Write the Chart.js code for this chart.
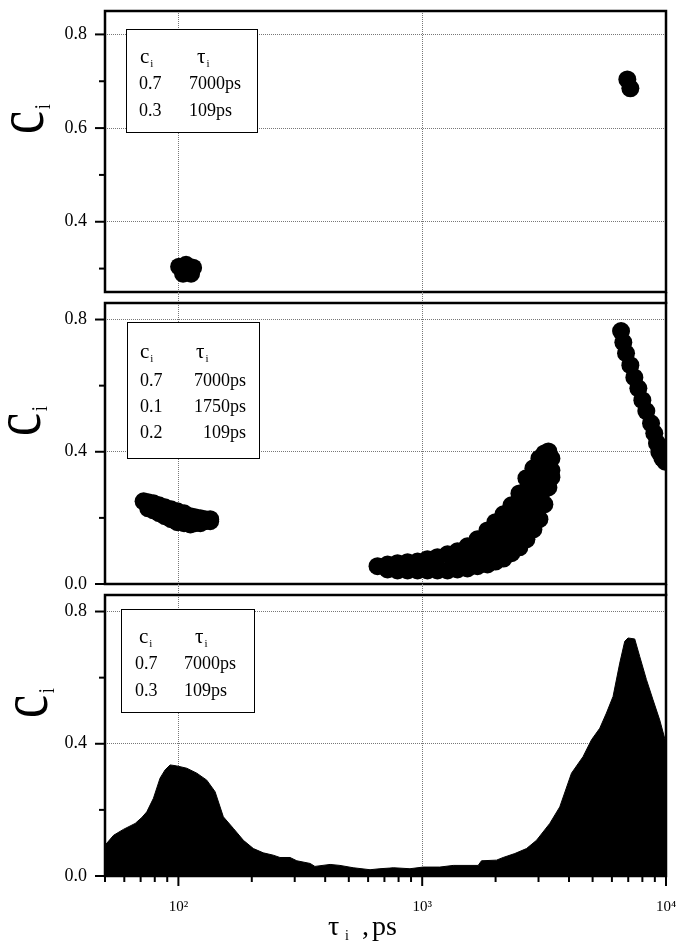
<!DOCTYPE html>
<html>
<head>
<meta charset="utf-8">
<script src="https://cdn.jsdelivr.net/npm/chart.js@4/dist/chart.umd.min.js"></script>
<style>
html,body{margin:0;padding:0;background:#fff;}
#wrap{position:relative;width:677px;height:950px;overflow:hidden;background:#fff;}
canvas{position:absolute;left:0;}
</style>
</head>
<body>
<div id="wrap">
  <canvas id="c1" width="677" height="320" style="top:0px"></canvas>
  <canvas id="c2" width="677" height="320" style="top:283px"></canvas>
  <canvas id="c3" width="677" height="375" style="top:575px"></canvas>
</div>
<script>
// ---------------- DATA ----------------
const X_MIN = 50, X_MAX = 10000;
const xMajorTicks = [100, 1000, 10000];
const xTickLabels = ['10\u00B2', '10\u00B3', '10\u2074'];
const xMinorTicks = [50, 60, 70, 80, 90, 200, 300, 400, 500, 600, 700, 800, 900,
                     2000, 3000, 4000, 5000, 6000, 7000, 8000, 9000];

// Panel 1: two-component fits (c_i vs tau_i)
const p1Tau = [100.7, 107.5, 114.9, 112.7, 104.5, 107.5, 6940, 7141];
const p1C   = [0.304, 0.308, 0.302, 0.289, 0.289, 0.297, 0.704, 0.685];
const p1YMajor = [0.4, 0.6, 0.8];
const p1YMinor = [0.3, 0.5, 0.7];
const p1LegendC   = ['0.7', '0.3'];
const p1LegendTau = ['7000ps', '109ps'];

// Panel 2: three-component fits
const p2ShortTau = [72, 75.2, 75.2, 79, 79, 83.3, 83.3, 88, 88, 93.3, 93.3, 99, 99, 105.5, 105.5,
                    112, 112, 117, 117, 123, 123, 128.6, 128.6, 135, 135];
const p2ShortC   = [0.25, 0.247, 0.229, 0.244, 0.223, 0.238, 0.214, 0.232, 0.205, 0.226, 0.196,
                    0.22, 0.187, 0.214, 0.184, 0.205, 0.18, 0.202, 0.184, 0.199, 0.184, 0.196, 0.19, 0.196, 0.19];
const p2MidTau = [656, 721, 792, 871, 957, 1051, 1155, 1270, 1395, 1533, 1685, 1852, 1997,
                  2154, 2323, 2505, 2676, 2858, 3025, 3171, 3293, 3388];
const p2MidC = [
  [0.054],
  [0.059, 0.044],
  [0.063, 0.041],
  [0.066, 0.041],
  [0.068, 0.041],
  [0.075, 0.041],
  [0.081, 0.041],
  [0.090, 0.041],
  [0.099, 0.072, 0.044],
  [0.114, 0.081, 0.047],
  [0.135, 0.096, 0.054],
  [0.162, 0.126, 0.093, 0.059],
  [0.187, 0.153, 0.117, 0.093, 0.068],
  [0.211, 0.174, 0.138, 0.102, 0.077],
  [0.238, 0.202, 0.165, 0.129, 0.093],
  [0.274, 0.238, 0.202, 0.165, 0.129, 0.111],
  [0.320, 0.283, 0.247, 0.211, 0.174, 0.135],
  [0.350, 0.314, 0.277, 0.241, 0.205, 0.165],
  [0.380, 0.344, 0.308, 0.271, 0.235, 0.196],
  [0.395, 0.359, 0.323, 0.286, 0.241],
  [0.401, 0.365, 0.329, 0.292],
  [0.380, 0.344, 0.323]
];
const p2LongTau = [6541, 6683, 6857, 7141, 7417, 7701, 7997, 8304, 8681, 8954, 9186, 9387, 9656, 9933];
const p2LongC   = [0.765, 0.731, 0.698, 0.662, 0.625, 0.592, 0.556, 0.523, 0.486, 0.456, 0.426, 0.399, 0.381, 0.37];
const p23YMajor = [0.0, 0.4, 0.8];
const p23YMinor = [0.2, 0.6];
const p2LegendC   = ['0.7', '0.1', '0.2'];
const p2LegendTau = ['7000ps', '1750ps', '109ps'];

// Panel 3: distribution of c_i over tau_i
const p3Tau = [50, 54.2, 59.5, 66.5, 70.8, 74.2, 79.0, 84.1, 88.2, 92.5, 98.5, 108.2, 119.0, 130.7,
  141.4, 152.9, 168.1, 184.7, 203, 223, 245, 261, 287, 306, 347, 363, 419, 460, 521, 611,
  671, 737, 761, 891, 1009, 1181, 1340, 1696, 1751, 2018, 2148, 2399, 2679, 2944, 3337,
  3667, 4096, 4568, 4948, 5350, 5698, 6065, 6461, 6773, 6988, 7442, 7802, 8313, 8845, 9424, 10000];
const p3C = [0.093, 0.123, 0.141, 0.159, 0.177, 0.194, 0.235, 0.296, 0.321, 0.336, 0.333, 0.326, 0.311, 0.290,
  0.255, 0.179, 0.144, 0.108, 0.083, 0.070, 0.063, 0.056, 0.056, 0.046, 0.038, 0.029, 0.035, 0.032, 0.025, 0.019,
  0.022, 0.024, 0.025, 0.022, 0.027, 0.027, 0.032, 0.032, 0.046, 0.048, 0.056, 0.068, 0.083, 0.108, 0.159,
  0.209, 0.311, 0.361, 0.412, 0.447, 0.493, 0.543, 0.644, 0.710, 0.720, 0.717, 0.664, 0.594, 0.533, 0.472, 0.402];
const p3LegendC   = ['0.7', '0.3'];
const p3LegendTau = ['7000ps', '109ps'];

// ---------------- HELPERS ----------------
const SERIF = '"Liberation Serif", "Times New Roman", serif';
const GRID = '#777';
const pairs = (xs, ys) => xs.map((x, i) => ({x, y: ys[i]}));
const groupPairs = (xs, groups) => xs.flatMap((x, i) => groups[i].map(y => ({x, y})));

function line(ctx, x1, y1, x2, y2) { ctx.beginPath(); ctx.moveTo(x1, y1); ctx.lineTo(x2, y2); ctx.stroke(); }

function subText(ctx, main, sub, x, y, size, subSize, subDrop) {
  ctx.font = size + 'px ' + SERIF;
  ctx.fillText(main, x, y);
  const w = ctx.measureText(main).width;
  ctx.font = subSize + 'px ' + SERIF;
  ctx.fillText(sub, x + w + 1, y + subDrop);
}

const decor = {
  id: 'decor',
  afterDraw(chart, args, o) {
    const ctx = chart.ctx, a = chart.chartArea;
    const xs = chart.scales.x, ys = chart.scales.y;
    ctx.save();
    // grid lines continuing through the gap above the panel
    if (o.gapAbove) {
      ctx.strokeStyle = GRID; ctx.lineWidth = 1; ctx.setLineDash([1, 1]);
      for (const v of [100, 1000]) {
        const px = Math.round(xs.getPixelForValue(v)) + 0.5;
        line(ctx, px, a.top - 11, px, a.top);
      }
      ctx.setLineDash([]);
    }
    // y tick marks
    ctx.strokeStyle = '#000'; ctx.lineWidth = 2;
    for (const v of o.yMajor) { const y = ys.getPixelForValue(v); line(ctx, a.left - 10, y, a.left, y); }
    for (const v of o.yMinor) { const y = ys.getPixelForValue(v); line(ctx, a.left - 6, y, a.left, y); }
    // x tick marks
    if (o.xTicks) {
      for (const v of xMajorTicks) { const x = xs.getPixelForValue(v); line(ctx, x, a.bottom, x, a.bottom + 10); }
      for (const v of xMinorTicks) { const x = xs.getPixelForValue(v); line(ctx, x, a.bottom, x, a.bottom + 6); }
    }
    // frame
    ctx.lineWidth = 2.5;
    ctx.strokeRect(a.left, a.top, a.right - a.left, a.bottom - a.top);
    if (o.gapBelow) line(ctx, a.right, a.bottom, a.right, a.bottom + 12);
    // legend box
    const L = o.legend;
    const bx = a.left + L.dx, by = a.top + L.dy;
    ctx.fillStyle = '#fff'; ctx.fillRect(bx, by, L.w, L.h);
    ctx.lineWidth = 1; ctx.strokeStyle = '#000';
    ctx.strokeRect(bx + 0.5, by + 0.5, L.w, L.h);
    ctx.fillStyle = '#000'; ctx.textBaseline = 'alphabetic'; ctx.textAlign = 'left';
    subText(ctx, 'c', 'i', bx + L.hc, by + L.hy, 21, 11, 4);
    subText(ctx, '\u03C4', 'i', bx + L.ht, by + L.hy, 21, 11, 4);
    ctx.font = '18px ' + SERIF;
    L.cVals.forEach((c, i) => {
      const yy = by + L.rows[i];
      ctx.textAlign = 'left';
      ctx.fillText(c, bx + L.c1, yy);
      if (L.rightAlign) { ctx.textAlign = 'right'; ctx.fillText(L.tVals[i], bx + L.c2, yy); }
      else { ctx.textAlign = 'left'; ctx.fillText(L.tVals[i], bx + L.c2, yy); }
    });
    ctx.textAlign = 'left';
    // y axis title (rotated c_i)
    const T = o.yTitle;
    ctx.save();
    ctx.translate(T.x, T.y); ctx.rotate(-Math.PI / 2); ctx.scale(1, 1.3);
    ctx.font = '52px ' + SERIF;
    ctx.fillText('c', 0, 0);
    const cw = ctx.measureText('c').width;
    ctx.font = '17px ' + SERIF;
    ctx.fillText('i', cw + 2, 5);
    ctx.restore();
    // x axis title
    if (o.xTitle) {
      const X = o.xTitle;
      ctx.font = '28px ' + SERIF;
      ctx.fillText('\u03C4', X.x, X.y);
      ctx.font = '14px ' + SERIF;
      ctx.fillText('i', X.x + 17, X.y + 5);
      ctx.font = '28px ' + SERIF;
      ctx.fillText(',', X.x + 34, X.y);
      ctx.fillText('ps', X.x + 44, X.y);
    }
    ctx.restore();
  }
};

function xScale(showTicks, height) {
  return {
    type: 'logarithmic', min: X_MIN, max: X_MAX,
    afterBuildTicks: s => { s.ticks = xMajorTicks.map(v => ({value: v})); },
    afterFit: s => { s.height = height; s.paddingLeft = 0; s.paddingRight = 0; s.paddingTop = 0; s.paddingBottom = 0; },
    grid: {
      drawTicks: false, lineWidth: 1,
      color: c => (c.tick && c.tick.value === X_MAX) ? 'rgba(0,0,0,0)' : GRID
    },
    border: {display: false, dash: [1, 1]},
    ticks: {
      display: showTicks, padding: 22, color: '#000', maxRotation: 0, autoSkip: false,
      font: {family: SERIF, size: 15},
      callback: v => { const i = xMajorTicks.indexOf(v); return i >= 0 ? xTickLabels[i] : ''; }
    }
  };
}
function yScale(min, max, majors) {
  return {
    type: 'linear', min, max,
    afterBuildTicks: s => { s.ticks = majors.map(v => ({value: v})); },
    afterFit: s => { s.width = 105; s.paddingTop = 0; s.paddingBottom = 0; s.paddingLeft = 0; s.paddingRight = 0; },
    grid: {
      drawTicks: false, lineWidth: 1,
      color: c => (c.tick && (c.tick.value === min || c.tick.value === max)) ? 'rgba(0,0,0,0)' : GRID
    },
    border: {display: false, dash: [1, 1]},
    ticks: {
      padding: 18, color: '#000', font: {family: SERIF, size: 18},
      callback: v => Number(v).toFixed(1)
    }
  };
}
function scatterSet(data) {
  return {data, showLine: false, pointRadius: 9, pointHoverRadius: 9, borderWidth: 0,
          pointBorderWidth: 0, backgroundColor: '#000', borderColor: '#000',
          pointBackgroundColor: '#000', clip: 0};
}

const common = {
  responsive: false, animation: false, events: [],
  plugins: {legend: {display: false}, tooltip: {enabled: false}}
};

// Panel 1
new Chart(document.getElementById('c1'), {
  type: 'scatter',
  data: {datasets: [scatterSet(pairs(p1Tau, p1C))]},
  options: Object.assign({}, common, {
    layout: {autoPadding: false, padding: {top: 11, right: 11, bottom: 28, left: 0}},
    scales: {x: xScale(false, 0), y: yScale(0.25, 0.85, p1YMajor)},
    plugins: Object.assign({}, common.plugins, {decor: {
      yMajor: p1YMajor, yMinor: p1YMinor, gapBelow: true,
      legend: {dx: 21, dy: 18, w: 131, h: 103, hc: 14, ht: 71, hy: 34, c1: 13, c2: 63,
               rows: [60, 87], cVals: p1LegendC, tVals: p1LegendTau, rightAlign: false},
      yTitle: {x: 43, y: 134}
    }})
  }),
  plugins: [decor]
});

// Panel 2
new Chart(document.getElementById('c2'), {
  type: 'scatter',
  data: {datasets: [
    scatterSet(pairs(p2ShortTau, p2ShortC)),
    scatterSet(groupPairs(p2MidTau, p2MidC)),
    scatterSet(pairs(p2LongTau, p2LongC))
  ]},
  options: Object.assign({}, common, {
    layout: {autoPadding: false, padding: {top: 20, right: 11, bottom: 19, left: 0}},
    scales: {x: xScale(false, 0), y: yScale(0, 0.85, p23YMajor)},
    plugins: Object.assign({}, common.plugins, {decor: {
      yMajor: p23YMajor, yMinor: p23YMinor, gapAbove: true, gapBelow: true,
      legend: {dx: 22, dy: 19, w: 132, h: 136, hc: 13, ht: 69, hy: 36, c1: 13, c2: 119,
               rows: [64, 90, 116], cVals: p2LegendC, tVals: p2LegendTau, rightAlign: true},
      yTitle: {x: 40, y: 153}
    }})
  }),
  plugins: [decor]
});

// Panel 3
new Chart(document.getElementById('c3'), {
  type: 'scatter',
  data: {datasets: [{
    data: pairs(p3Tau, p3C), showLine: true, fill: 'origin', tension: 0,
    pointRadius: 0, borderWidth: 1, borderColor: '#000', backgroundColor: '#000', clip: 0
  }]},
  options: Object.assign({}, common, {
    layout: {autoPadding: false, padding: {top: 20, right: 11, bottom: 0, left: 0}},
    scales: {x: xScale(true, 74), y: yScale(0, 0.85, p23YMajor)},
    plugins: Object.assign({}, common.plugins, {decor: {
      yMajor: p23YMajor, yMinor: p23YMinor, gapAbove: true, xTicks: true,
      legend: {dx: 16, dy: 14, w: 133, h: 103, hc: 18, ht: 74, hy: 34, c1: 14, c2: 63,
               rows: [60, 87], cVals: p3LegendC, tVals: p3LegendTau, rightAlign: false},
      yTitle: {x: 47, y: 143},
      xTitle: {x: 328, y: 360}
    }})
  }),
  plugins: [decor]
});
</script>
</body>
</html>
